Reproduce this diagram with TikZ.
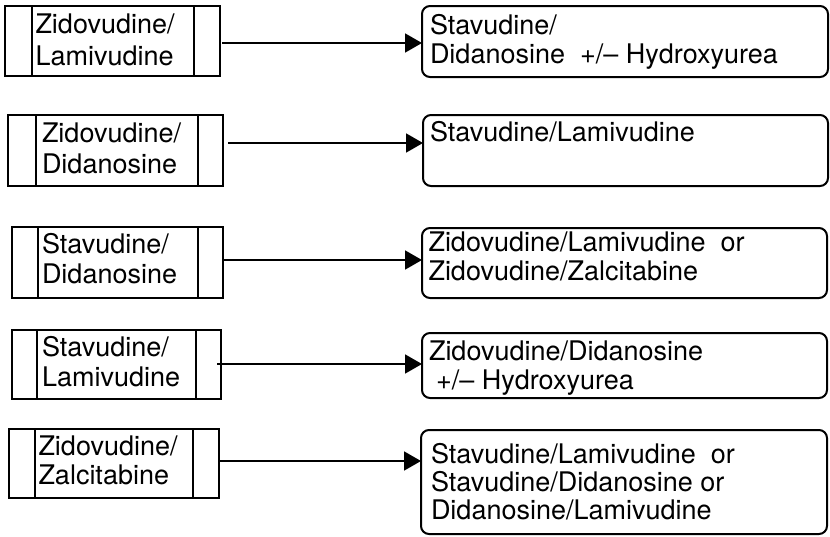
\documentclass[tikz,border=0pt]{standalone}
\usepackage{fontspec}
\setmainfont{TeX Gyre Heros}
\usetikzlibrary{arrows.meta}
\begin{document}
\begin{tikzpicture}[x=1pt,y=-1pt,
  lbox/.style={draw, line width=2pt, inner sep=0pt, outer sep=0pt},
  divider/.style={line width=2pt},
  rbox/.style={draw, line width=2pt, rounded corners=8pt, inner sep=0pt, outer sep=0pt},
  txt/.style={anchor=base west, inner sep=0pt, outer sep=0pt, font=\fontsize{27pt}{30pt}\selectfont},
  arr/.style={line width=1.8pt, -{Triangle[length=17pt,width=19pt]}}]
\useasboundingbox (0,0) rectangle (830,536);
% left boxes
\node[lbox, minimum width=215pt, minimum height=70pt] (L1) at (112.5,41) {};
\draw[divider] ([xshift=27pt]L1.north west) -- ([xshift=27pt]L1.south west);
\draw[divider] ([xshift=-26pt]L1.north east) -- ([xshift=-26pt]L1.south east);
\node[lbox, minimum width=215pt, minimum height=71pt] (L2) at (115.5,150.5) {};
\draw[divider] ([xshift=28pt]L2.north west) -- ([xshift=28pt]L2.south west);
\draw[divider] ([xshift=-25pt]L2.north east) -- ([xshift=-25pt]L2.south east);
\node[lbox, minimum width=211pt, minimum height=71pt] (L3) at (117.5,262.5) {};
\draw[divider] ([xshift=26pt]L3.north west) -- ([xshift=26pt]L3.south west);
\draw[divider] ([xshift=-25pt]L3.north east) -- ([xshift=-25pt]L3.south east);
\node[lbox, minimum width=209pt, minimum height=69pt] (L4) at (116.5,364.5) {};
\draw[divider] ([xshift=25pt]L4.north west) -- ([xshift=25pt]L4.south west);
\draw[divider] ([xshift=-25pt]L4.north east) -- ([xshift=-25pt]L4.south east);
\node[lbox, minimum width=210pt, minimum height=69pt] (L5) at (114,463.5) {};
\draw[divider] ([xshift=26pt]L5.north west) -- ([xshift=26pt]L5.south west);
\draw[divider] ([xshift=-26pt]L5.north east) -- ([xshift=-26pt]L5.south east);
% left texts
\node[txt] (L1a) at (35.5,33) {Zidovudine/};
\node[txt] (L1b) at (35.5,65) {Lamivudine};
\node[txt] (L2a) at (42,142) {Zidovudine/};
\node[txt] (L2b) at (42,173) {Didanosine};
\node[txt] (L3a) at (42,253) {Stavudine/};
\node[txt] (L3b) at (42,283) {Didanosine};
\node[txt] (L4a) at (42,356) {Stavudine/};
\node[txt] (L4b) at (42,386) {Lamivudine};
\node[txt] (L5a) at (38.5,455) {Zidovudine/};
\node[txt] (L5b) at (38.5,484) {Zalcitabine};
% right boxes
\node[rbox, minimum width=406pt, minimum height=71pt] (R1) at (625,41.5) {};
\node[rbox, minimum width=405pt, minimum height=71pt] (R2) at (625.5,150.5) {};
\node[rbox, minimum width=405pt, minimum height=70pt] (R3) at (624.5,263) {};
\node[rbox, minimum width=405pt, minimum height=65pt] (R4) at (624.5,365.5) {};
\node[rbox, minimum width=406pt, minimum height=104pt] (R5) at (624,482) {};
% right texts
\node[txt] (R1a) at (430,34) {Stavudine/};
\node[txt] (R1b) at (430,63) {Didanosine\ \ +/– Hydroxyurea};
\node[txt] (R2a) at (430,141) {Stavudine/Lamivudine};
\node[txt] (R3a) at (428.5,251) {Zidovudine/Lamivudine\ \ or};
\node[txt] (R3b) at (428.5,280) {Zidovudine/Zalcitabine};
\node[txt] (R4a) at (429,360) {Zidovudine/Didanosine};
\node[txt] (R4b) at (436,389) {+/– Hydroxyurea};
\node[txt] (R5a) at (431,463) {Stavudine/Lamivudine\ \ or};
\node[txt] (R5b) at (431,491) {Stavudine/Didanosine or};
\node[txt] (R5c) at (431,519) {Didanosine/Lamivudine};
% arrows
\draw[arr, shorten <=2pt] (L1.east |- 0,43) -- (R1.west |- 0,43);
\draw[arr, shorten <=5pt] (L2.east |- 0,143) -- (R2.west |- 0,143);
\draw[arr] (L3.east |- 0,260) -- (R3.west |- 0,260);
\draw[arr, shorten <=-4pt] (L4.east |- 0,364) -- (R4.west |- 0,364);
\draw[arr] (L5.east |- 0,461) -- (R5.west |- 0,461);
\end{tikzpicture}
\end{document}
